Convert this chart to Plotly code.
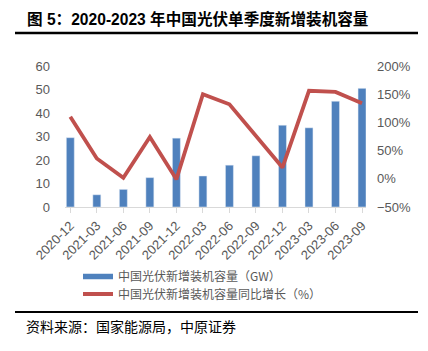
import plotly.graph_objects as go

categories = ["2020-12", "2021-03", "2021-06", "2021-09", "2021-12", "2022-03",
              "2022-06", "2022-09", "2022-12", "2023-03", "2023-06", "2023-09"]
capacity_gw = [29.5, 5.2, 7.5, 12.5, 29.3, 13.2, 17.8, 21.8, 34.8, 33.7, 45.0, 50.5]
growth_pct = [110, 36, 2, 74, -1, 150, 132, 77, 20, 156, 154, 134]

name_bar = "中国光伏新增装机容量（GW）"
name_line = "中国光伏新增装机容量同比增长（%）"

W, H = 428, 351
L, R, T, B = 65, 62, 66, 144
pw, ph = W - L - R, H - T - B

def px(x):
    return (x - L) / pw

def py(y):
    return (H - B - y) / ph

fig = go.Figure()
fig.add_trace(go.Bar(x=categories, y=capacity_gw, name=name_bar, marker_color="#4F81BD",
                     showlegend=False, yaxis="y"))
# legend-only entry for the bar series, drawn as a thick line like the reference
fig.add_trace(go.Scatter(x=[None], y=[None], mode="lines", name=name_bar,
                         line=dict(color="#4F81BD", width=5.5), yaxis="y", legend="legend"))
fig.add_trace(go.Scatter(x=categories, y=growth_pct, mode="lines", name=name_line,
                         line=dict(color="#C0504D", width=3.8), yaxis="y2", legend="legend2"))

tickfont = dict(family="Liberation Sans, Arial, sans-serif", size=13, color="#595959")
legfont = dict(family="Noto Sans CJK SC", size=12, color="#595959")

fig.update_layout(
    width=W, height=H,
    margin=dict(l=L, r=R, t=T, b=B, pad=0),
    paper_bgcolor="white", plot_bgcolor="white",
    bargap=0.7,
    xaxis=dict(type="category", range=[-0.2, 11.15], tickangle=-45, tickfont=tickfont,
               showline=True, linecolor="#D9D9D9", linewidth=1, showgrid=False,
               ticks="outside", ticklen=5, tickcolor="#D9D9D9"),
    yaxis=dict(range=[0, 60], dtick=10, tickfont=tickfont, showgrid=False, zeroline=False,
               ticklabelstandoff=14),
    yaxis2=dict(range=[-50, 200], dtick=50, ticksuffix="%", overlaying="y", side="right",
                tickfont=tickfont, showgrid=False, zeroline=False, ticklabelstandoff=10),
    showlegend=True,
    legend=dict(x=px(78), y=py(276.5), xanchor="left", yanchor="middle", orientation="v",
                font=legfont, itemwidth=30, bgcolor="rgba(0,0,0,0)"),
    legend2=dict(x=px(78), y=py(294), xanchor="left", yanchor="middle", orientation="v",
                 font=legfont, itemwidth=30, bgcolor="rgba(0,0,0,0)"),
    title=dict(text="<b>图 5：2020-2023 年中国光伏单季度新增装机容量</b>",
               x=27 / W, xanchor="left", y=1 - 20 / H, yanchor="middle",
               font=dict(family="Liberation Sans, Noto Sans CJK SC", size=15.6, color="black")),
    shapes=[
        dict(type="line", xref="paper", yref="paper", x0=px(15), x1=px(418), y0=py(33), y1=py(33),
             line=dict(color="black", width=2.5)),
        dict(type="line", xref="paper", yref="paper", x0=px(15), x1=px(418), y0=py(312), y1=py(312),
             line=dict(color="black", width=2)),
    ],
    annotations=[
        dict(text="资料来源：国家能源局，中原证券", xref="paper", yref="paper",
             x=px(24), y=py(326), xanchor="left", yanchor="middle", showarrow=False,
             font=dict(family="Noto Sans CJK SC", size=14, color="black")),
    ],
)

fig.write_html("out.html")
